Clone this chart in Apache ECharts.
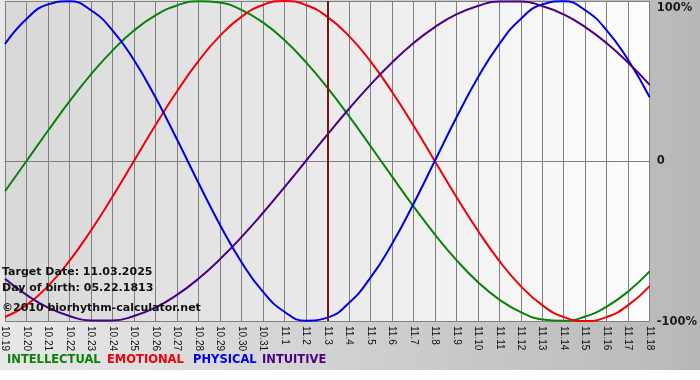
<!DOCTYPE html>
<html>
<head>
<meta charset="utf-8">
<script src="https://cdn.jsdelivr.net/npm/echarts@6/dist/echarts.min.js"></script>
<style>html,body{margin:0;padding:0;background:#fff}#c{width:700px;height:380px}</style>
</head>
<body>
<div id="c"></div>
<script>
var categories = ['10.19','10.20','10.21','10.22','10.23','10.24','10.25','10.26','10.27','10.28','10.29','10.30','10.31','11.1','11.2','11.3','11.4','11.5','11.6','11.7','11.8','11.9','11.10','11.11','11.12','11.13','11.14','11.15','11.16','11.17','11.18'];
var intellectual = [-18.9,0,18.9,37.2,54.1,69.0,81.5,91.0,97.2,99.9,99.0,94.5,86.6,75.6,61.8,45.8,28.2,9.5,-9.5,-28.2,-45.8,-61.8,-75.6,-86.6,-94.5,-99.0,-99.9,-97.2,-91.0,-81.5,-69.0];
var emotional = [-97.5,-90.1,-78.2,-62.4,-43.4,-22.3,0,22.3,43.4,62.4,78.2,90.1,97.5,100,97.5,90.1,78.2,62.4,43.4,22.3,0,-22.3,-43.4,-62.4,-78.2,-90.1,-97.5,-100,-97.5,-90.1,-78.2];
var physical = [73.1,88.8,97.9,99.8,94.2,81.7,63.1,39.8,13.6,-13.6,-39.8,-63.1,-81.7,-94.2,-99.8,-97.9,-88.8,-73.1,-52.0,-27.0,0,27.0,52.0,73.1,88.8,97.9,99.8,94.2,81.7,63.1,39.8];
var intuitive = [-73.6,-83.7,-91.6,-96.9,-99.7,-99.7,-96.9,-91.6,-83.7,-73.6,-61.4,-47.6,-32.5,-16.5,0,16.5,32.5,47.6,61.4,73.6,83.7,91.6,96.9,99.7,99.7,96.9,91.6,83.7,73.6,61.4,47.6];
var targetDay = '11.3';
var yTicks = {'100':'100%','0':'0','-100':'-100%'};
var legendItems = [['INTELLECTUAL','#0a820a'],['EMOTIONAL','#f0000a'],['PHYSICAL','#0000e6'],['INTUITIVE','#4b0082']];
var infoLines = ['Target Date: 11.03.2025','Day of birth: 05.22.1813','\u00a92010 biorhythm-calculator.net'];

var chart = echarts.init(document.getElementById('c'), null, {renderer:'canvas'});
function mkSeries(name, data, color, extra){
  var s = {name:name,type:'line',data:data,smooth:0.5,symbol:'none',
    lineStyle:{color:color,width:2},itemStyle:{color:color},z:3,animation:false};
  if(extra) for(var k in extra) s[k]=extra[k];
  return s;
}
var legendX = [7,107,193,262];
var graphics = [
  {type:'rect',z:-100,silent:true,shape:{x:0,y:0,width:700,height:370},
   style:{fill:new echarts.graphic.LinearGradient(0,0,1,0,[{offset:0,color:'#e8e8e8'},{offset:1,color:'#b8b8b8'}])}}
];
legendItems.forEach(function(it,i){
  graphics.push({type:'text',left:legendX[i],top:354,z:10,style:{text:it[0],fill:it[1],font:'bold 11.5px "DejaVu Sans"'}});
});
infoLines.forEach(function(t,i){
  graphics.push({type:'text',left:2,top:[267,283,303][i],z:10,style:{text:t,fill:'#111',font:'bold 11px "DejaVu Sans"'}});
});
chart.setOption({
  animation:false,
  grid:{left:1,right:49,top:1,bottom:59,show:true,borderWidth:0,
    backgroundColor:new echarts.graphic.LinearGradient(0,0,1,0,[{offset:0,color:'#d8d8d8'},{offset:1,color:'#fdfdfd'}])},
  graphic:graphics,
  xAxis:{type:'category',data:categories,boundaryGap:false,
    axisLine:{show:true,lineStyle:{color:'#808080',width:1}},
    axisTick:{show:true,length:4,interval:0,lineStyle:{color:'#808080'}},
    axisLabel:{interval:0,rotate:-90,margin:5,color:'#111',fontSize:10,fontFamily:'"Liberation Sans", Arial'},
    splitLine:{show:true,interval:0,lineStyle:{color:'#808080',width:1}}},
  yAxis:{type:'value',position:'right',min:-100,max:100,interval:100,
    axisLine:{show:false},axisTick:{show:false},
    axisLabel:{margin:7,color:'#1a1a1a',
      formatter:function(v){ var t=yTicks[String(v)]; return v===100 ? '{top|'+t+'}' : (v===-100 ? '{bot|'+t+'}' : t); },
      fontWeight:'bold',fontSize:11.5,fontFamily:'"DejaVu Sans"',
      rich:{top:{fontWeight:'bold',fontSize:11.5,fontFamily:'"DejaVu Sans"',color:'#1a1a1a',padding:[15,0,0,0]},
            bot:{fontWeight:'bold',fontSize:11.5,fontFamily:'"DejaVu Sans"',color:'#1a1a1a',padding:[3,0,0,0]}}},
    splitLine:{show:true,lineStyle:{color:'#808080',width:1}}},
  series:[
    mkSeries('INTELLECTUAL',intellectual,legendItems[0][1]),
    mkSeries('EMOTIONAL',emotional,legendItems[1][1]),
    mkSeries('PHYSICAL',physical,legendItems[2][1]),
    mkSeries('INTUITIVE',intuitive,legendItems[3][1],{
      markLine:{silent:true,symbol:'none',label:{show:false},animation:false,
        lineStyle:{color:'#7a1414',width:2,type:'solid'},data:[{xAxis:targetDay}]}})
  ]
});
</script>
</body>
</html>
